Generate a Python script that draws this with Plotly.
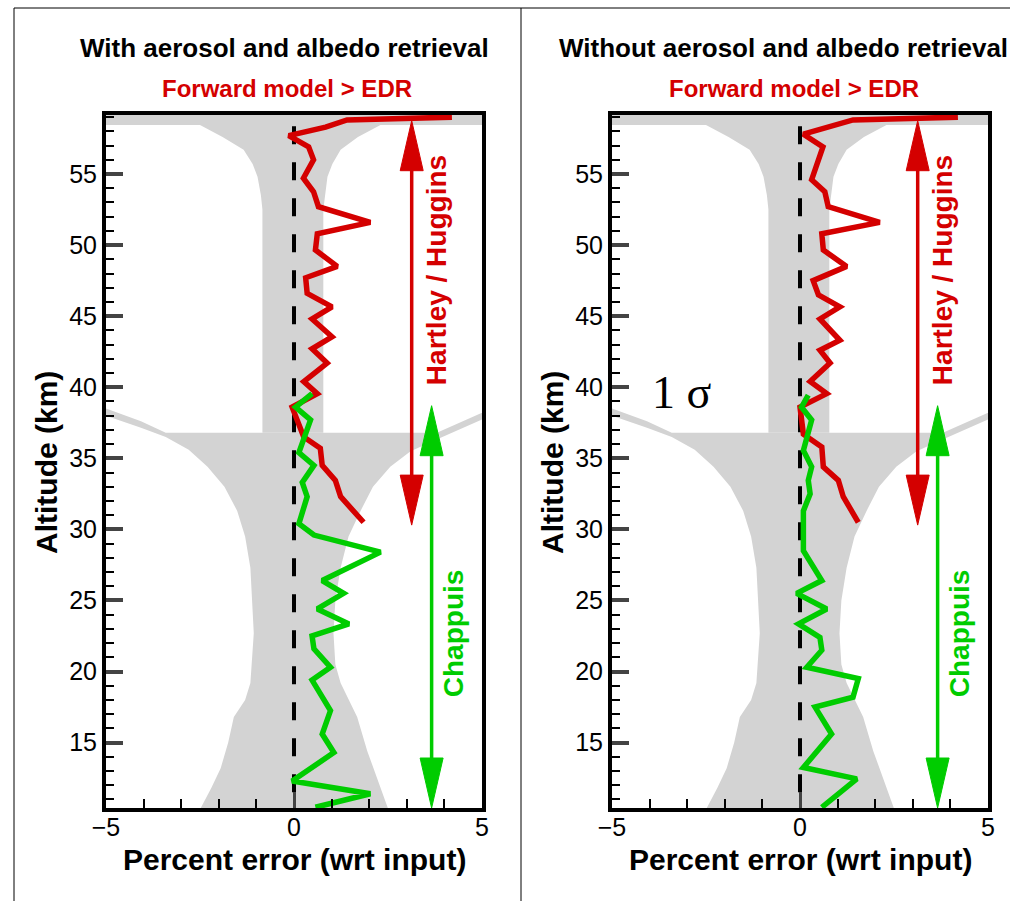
import plotly.graph_objects as go

# ---------------- data ----------------
# Hartley / Huggins retrieval error profile (percent) vs altitude (km)
hh_alt_with = [59.0, 58.8, 58.3, 57.7, 56.9, 56.0, 54.7, 53.75, 52.7, 51.6, 50.8, 49.65, 48.5, 47.7,
               46.6, 45.65, 44.8, 43.55, 42.7, 41.7, 40.4, 39.55, 38.6, 37.5, 36.5, 35.7, 34.5,
               33.45, 32.3, 30.5]
hh_err_with = [4.2, 1.41, 0.84, -0.14, 0.39, 0.52, 0.25, 0.52, 0.65, 2.03, 0.62, 0.57, 1.15, 0.31,
               0.35, 1.01, 0.48, 1.01, 0.48, 0.88, 0.26, 0.62, -0.05, 0.1, 0.26, 0.7, 0.75,
               1.1, 1.24, 1.85]

hh_alt_without = [59.0, 58.8, 57.8, 56.9, 54.6, 53.75, 52.7, 51.6, 50.8, 49.65, 48.5, 47.5, 46.5,
                  45.65, 44.8, 43.3, 42.6, 41.7, 40.4, 39.55, 38.6, 36.7, 35.8, 34.4, 33.45, 32.3,
                  30.5]
hh_err_without = [4.2, 1.41, 0.09, 0.61, 0.31, 0.66, 0.75, 2.12, 0.58, 0.62, 1.24, 0.35, 0.49,
                  1.06, 0.53, 1.06, 0.53, 0.8, 0.27, 0.71, 0.0, 0.09, 0.58, 0.62, 1.02, 1.15,
                  1.55]

# Chappuis retrieval error profile
ch_alt_with = [39.55, 38.6, 37.7, 36.5, 35.4, 34.5, 33.3, 32.3, 30.4, 29.6, 28.4, 26.4, 25.5,
               24.4, 23.35, 22.5, 21.6, 20.3, 19.4, 17.25, 15.6, 14.3, 12.3, 11.4, 10.45]
ch_err_with = [0.48, 0.04, 0.44, 0.26, 0.13, 0.53, 0.22, 0.35, 0.13, 0.53, 2.3, 0.75, 1.32,
               0.62, 1.46, 0.48, 0.53, 0.97, 0.48, 0.97, 0.75, 1.06, -0.05, 2.03, 0.57]

ch_alt_without = [39.45, 38.6, 37.7, 36.5, 35.55, 34.4, 33.45, 32.5, 31.3, 28.5, 26.4, 25.5,
                  24.4, 23.35, 22.4, 21.5, 20.3, 19.5, 18.2, 17.5, 15.6, 13.25, 12.45, 10.45]
ch_err_without = [0.22, 0.04, 0.31, 0.18, 0.09, 0.31, 0.22, 0.27, 0.09, 0.09, 0.58, -0.09,
                  0.71, -0.04, 0.53, 0.58, 0.18, 1.55, 1.41, 0.4, 0.84, 0.09, 1.51, 0.58]

# 1-sigma envelope, Hartley / Huggins band (closed outline: err, alt)
sig_hh_err = [-0.84, -0.84, -0.88, -0.97, -1.1, -1.34, -1.9, -2.5, -6.0, -6.0, 6.0, 6.0, 2.3,
              1.7, 1.24, 1.02, 0.89, 0.82, 0.78, 0.78]
sig_hh_alt = [36.8, 52.5, 53.5, 54.8, 55.7, 56.7, 57.6, 58.45, 58.45, 60.0, 60.0, 58.45, 58.45,
              57.6, 56.7, 55.7, 54.8, 53.5, 52.5, 36.8]

# 1-sigma envelope, Chappuis band (closed outline: err, alt)
sig_ch_err = [-2.55, -2.48, -2.2, -1.95, -1.75, -1.6, -1.3, -1.16, -1.07, -1.16, -1.3, -1.51,
              -1.85, -2.3, -2.8, -3.41, -4.07, -5.5,
              -5.5, -4.07, -3.41, 3.8, 5.5,
              5.5, 3.9, 3.1, 2.56, 2.1, 1.77, 1.45, 1.24, 1.1, 1.05, 1.1, 1.24, 1.45, 1.68,
              1.95, 2.2, 2.48, 2.55]
sig_ch_alt = [10.0, 10.4, 11.8, 13.2, 15.0, 16.8, 18.0, 19.2, 22.7, 27.3, 29.5, 31.3,
              33.0, 34.4, 35.6, 36.5, 37.15, 38.45,
              39.0, 37.6, 36.8, 36.8, 38.8,
              38.3, 36.45, 35.5, 34.4, 33.0, 31.3, 29.5, 27.3, 25.0, 22.7, 20.5, 19.2, 18.0, 16.8,
              14.4, 12.5, 10.4, 10.0]

# spectral-band arrows: (x position, upper end, lower end)
hh_arrow = [3.13, 58.75, 30.3]
ch_arrow = [3.66, 38.7, 10.4]

x_ticks = [-5, 0, 5]
y_ticks = [15, 20, 25, 30, 35, 40, 45, 50, 55]
x_range = [-5, 5]
y_range = [10.4, 59.15]

# ---------------- layout geometry ----------------
W, H = 1010, 901
PANELS = [(106, 482), (612, 988)]
TOP, BOTTOM = 115, 808
SX = (PANELS[0][1] - PANELS[0][0]) / (x_range[1] - x_range[0])
SY = (BOTTOM - TOP) / (y_range[1] - y_range[0])

RED = "#d40000"
GREEN = "#00cc00"
GRAY = "#d3d3d3"
FONT = "Liberation Sans, Arial, sans-serif"

fig = go.Figure()


def head(xc, ztip, up):
    hw = 11.5 / SX
    hl = 50 / SY
    zb = ztip - hl if up else ztip + hl
    return [xc - hw, xc, xc + hw, xc - hw], [zb, ztip, zb, zb]


def add_panel(xa, ya, hh_alt, hh_err, ch_alt, ch_err):
    kw = dict(xaxis=xa, yaxis=ya, showlegend=False, hoverinfo="skip")
    # 1-sigma envelopes
    fig.add_trace(go.Scatter(x=sig_hh_err, y=sig_hh_alt, fill="toself", fillcolor=GRAY,
                             mode="lines", line=dict(width=0, color=GRAY), **kw))
    fig.add_trace(go.Scatter(x=sig_ch_err, y=sig_ch_alt, fill="toself", fillcolor=GRAY,
                             mode="lines", line=dict(width=0, color=GRAY), **kw))
    # zero-error reference
    fig.add_trace(go.Scatter(x=[0, 0], y=[58.35, y_range[0]], mode="lines",
                             line=dict(color="black", width=4, dash="18px,18px"), **kw))
    # error profiles
    fig.add_trace(go.Scatter(x=hh_err, y=hh_alt, mode="lines",
                             line=dict(color=RED, width=5.5), **kw))
    fig.add_trace(go.Scatter(x=ch_err, y=ch_alt, mode="lines",
                             line=dict(color=GREEN, width=5.5), **kw))
    # band arrows
    for (ax_x, z_top, z_bot), col in ((hh_arrow, RED), (ch_arrow, GREEN)):
        fig.add_trace(go.Scatter(x=[ax_x, ax_x], y=[z_top - 1, z_bot + 1], mode="lines",
                                 line=dict(color=col, width=3.5), **kw))
        for z, up in ((z_top, True), (z_bot, False)):
            tx, ty = head(ax_x, z, up)
            fig.add_trace(go.Scatter(x=tx, y=ty, fill="toself", fillcolor=col, mode="lines",
                                     line=dict(color=col, width=1), **kw))


add_panel("x", "y", hh_alt_with, hh_err_with, ch_alt_with, ch_err_with)
add_panel("x2", "y2", hh_alt_without, hh_err_without, ch_alt_without, ch_err_without)

axis_common = dict(showline=True, linewidth=4, linecolor="black", mirror=True,
                   showgrid=False, zeroline=False, ticks="inside", automargin=False,
                   tickfont=dict(family=FONT, size=25, color="black"))

for i, (x0, x1) in enumerate(PANELS):
    sfx = "" if i == 0 else str(i + 1)
    fig.update_layout(**{
        "xaxis" + sfx: dict(axis_common, domain=[x0 / W, x1 / W], range=x_range,
                            tickvals=x_ticks, ticklen=16, tickwidth=3,
                            ticklabelstandoff=-6,
                            minor=dict(dtick=1, tick0=0, ticks="inside", ticklen=9,
                                       tickwidth=1.5, tickcolor="black"),
                            anchor="y" + sfx),
        "yaxis" + sfx: dict(axis_common, domain=[1 - BOTTOM / H, 1 - TOP / H], range=y_range,
                            tickvals=y_ticks, ticklen=17, tickwidth=4,
                            minor=dict(dtick=1, tick0=0, ticks="inside", ticklen=8,
                                       tickwidth=1.5, tickcolor="black"),
                            anchor="x" + sfx),
    })

centered = dict(showarrow=False, xanchor="center", yanchor="middle")
annotations = []
titles = [("With aerosol and albedo retrieval", 284, 287),
          ("Without aerosol and albedo retrieval", 783, 794)]
for text, cx, sx in titles:
    annotations.append(dict(centered, text="<b>%s</b>" % text, x=cx / W, y=1 - 48 / H,
                            xref="paper", yref="paper",
                            font=dict(family=FONT, size=26, color="black")))
    annotations.append(dict(centered, text="<b>Forward model &gt; EDR</b>", x=sx / W,
                            y=1 - 88 / H, xref="paper", yref="paper",
                            font=dict(family=FONT, size=24, color=RED)))

for i, (x0, x1) in enumerate(PANELS):
    sfx = "" if i == 0 else str(i + 1)
    annotations.append(dict(centered, text="<b>Altitude (km)</b>", x=(x0 - 60) / W,
                            y=1 - 463 / H, xref="paper", yref="paper", textangle=-90,
                            font=dict(family=FONT, size=30, color="black")))
    annotations.append(dict(centered, text="<b>Percent error (wrt input)</b>",
                            x=(x0 + 188.5) / W, y=1 - 859 / H, xref="paper", yref="paper",
                            font=dict(family=FONT, size=30, color="black")))
    annotations.append(dict(centered, text="<b>Hartley / Huggins</b>", x=3.79, y=48.2,
                            xref="x" + sfx, yref="y" + sfx, textangle=-90,
                            font=dict(family=FONT, size=28, color=RED)))
    annotations.append(dict(centered, text="<b>Chappuis</b>", x=4.23, y=22.7,
                            xref="x" + sfx, yref="y" + sfx, textangle=-90,
                            font=dict(family=FONT, size=28, color=GREEN)))

annotations.append(dict(centered, text="1 σ", x=-3.13, y=39.6, xref="x2", yref="y2",
                        font=dict(family="Liberation Serif, Times New Roman, serif", size=46,
                                  color="black")))

shapes = [
    dict(type="line", xref="paper", yref="paper", x0=14 / W, x1=1, y0=1 - 8 / H, y1=1 - 8 / H,
         line=dict(color="black", width=1)),
    dict(type="line", xref="paper", yref="paper", x0=14 / W, x1=14 / W, y0=0, y1=1 - 8 / H,
         line=dict(color="black", width=1)),
    dict(type="line", xref="paper", yref="paper", x0=521 / W, x1=521 / W, y0=0, y1=1 - 8 / H,
         line=dict(color="black", width=1)),
]

fig.update_layout(width=W, height=H, margin=dict(l=0, r=0, t=0, b=0, autoexpand=False),
                  paper_bgcolor="white", plot_bgcolor="white", showlegend=False,
                  annotations=annotations, shapes=shapes)

fig.write_html("out.html")
